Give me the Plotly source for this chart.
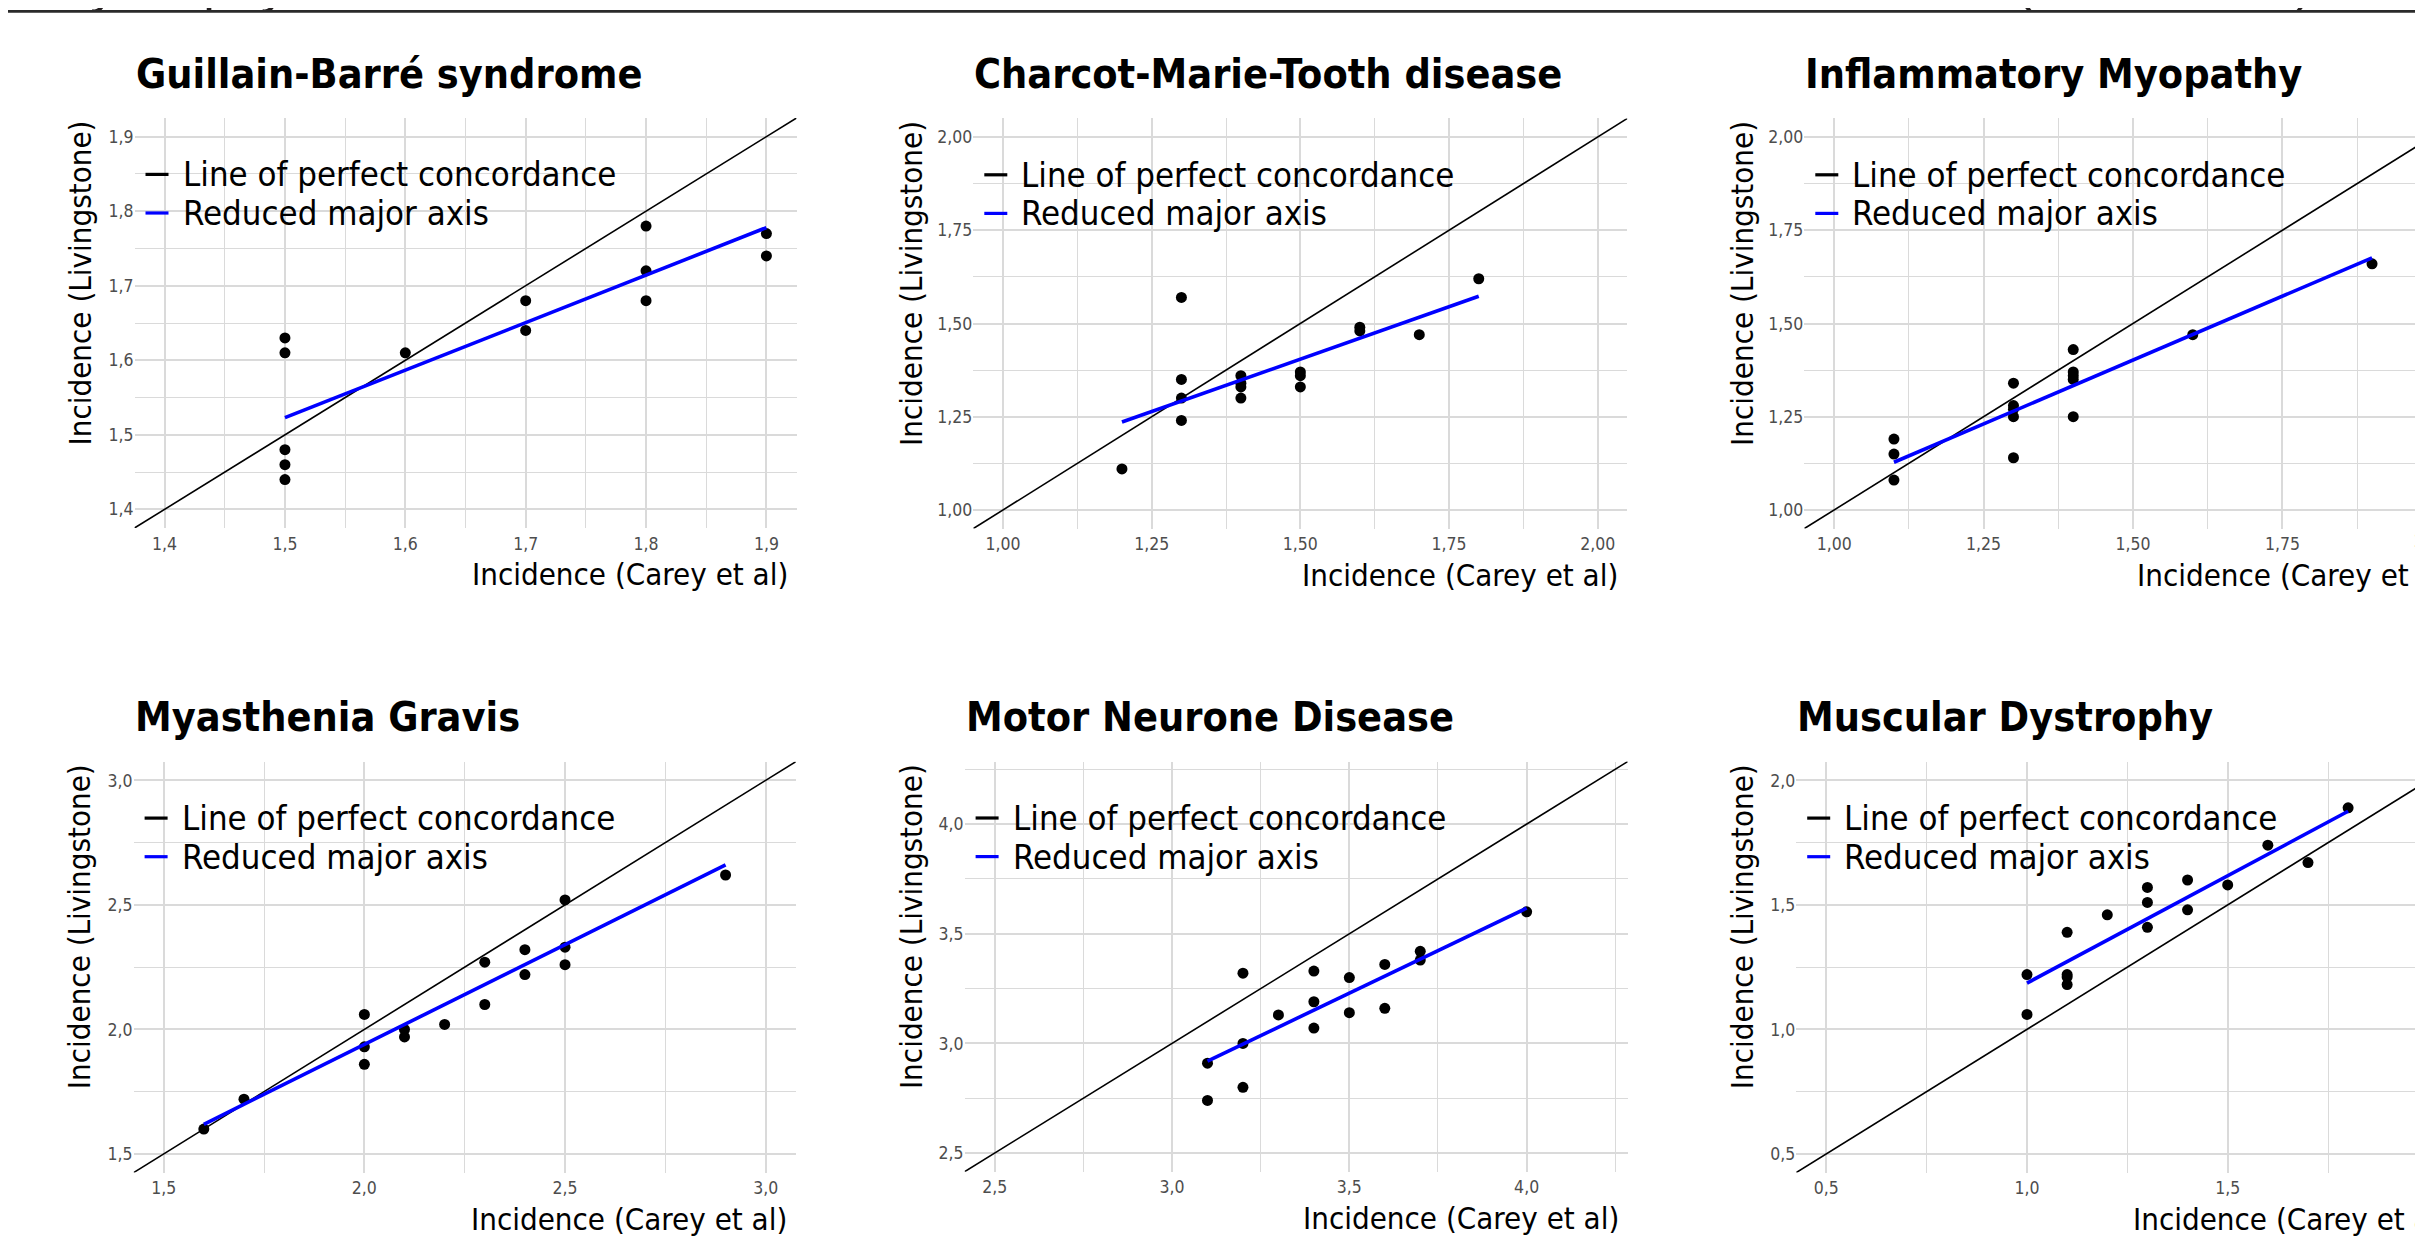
import plotly.graph_objects as go

# The page body adds an 8px margin, so the figure is drawn 8px right/down of
# the window corner; all positions below are measured in window pixels.
SW, SH = 2423, 1241
OFF = 8
FW, FH = SW - OFF, SH - OFF

# ---------------- data ----------------
titles = ["Guillain-Barré syndrome", "Charcot-Marie-Tooth disease", "Inflammatory Myopathy",
          "Myasthenia Gravis", "Motor Neurone Disease", "Muscular Dystrophy"]

gbs_carey = [1.5, 1.5, 1.5, 1.5, 1.5, 1.6, 1.7, 1.7, 1.8, 1.8, 1.8, 1.9, 1.9]
gbs_liv = [1.63, 1.61, 1.48, 1.46, 1.44, 1.61, 1.68, 1.64, 1.78, 1.72, 1.68, 1.77, 1.74]
gbs_rma_x = [1.5, 1.9]
gbs_rma_y = [1.523, 1.778]

cmt_carey = [1.2, 1.3, 1.3, 1.3, 1.3, 1.4, 1.4, 1.4, 1.4, 1.5, 1.5, 1.5, 1.6, 1.6, 1.7, 1.8]
cmt_liv = [1.11, 1.57, 1.35, 1.30, 1.24, 1.36, 1.34, 1.33, 1.30, 1.37, 1.36, 1.33, 1.49, 1.48, 1.47, 1.62]
cmt_rma_x = [1.2, 1.8]
cmt_rma_y = [1.236, 1.573]

im_carey = [1.1, 1.1, 1.1, 1.3, 1.3, 1.3, 1.3, 1.3, 1.4, 1.4, 1.4, 1.4, 1.4, 1.6, 1.9]
im_liv = [1.19, 1.15, 1.08, 1.34, 1.28, 1.27, 1.25, 1.14, 1.43, 1.37, 1.36, 1.35, 1.25, 1.47, 1.66]
im_rma_x = [1.1, 1.9]
im_rma_y = [1.128, 1.676]

mg_carey = [1.6, 1.7, 2.0, 2.0, 2.0, 2.1, 2.1, 2.2, 2.3, 2.3, 2.4, 2.4, 2.5, 2.5, 2.5, 2.9]
mg_liv = [1.60, 1.72, 2.06, 1.93, 1.86, 2.00, 1.97, 2.02, 2.27, 2.10, 2.32, 2.22, 2.52, 2.33, 2.26, 2.62]
mg_rma_x = [1.6, 2.9]
mg_rma_y = [1.619, 2.661]

mnd_carey = [3.1, 3.1, 3.2, 3.2, 3.2, 3.3, 3.4, 3.4, 3.4, 3.5, 3.5, 3.6, 3.6, 3.7, 3.7, 4.0]
mnd_liv = [2.91, 2.74, 3.32, 3.00, 2.80, 3.13, 3.33, 3.19, 3.07, 3.30, 3.14, 3.36, 3.16, 3.42, 3.38, 3.60]
mnd_rma_x = [3.1, 4.0]
mnd_rma_y = [2.919, 3.617]

md_carey = [1.0, 1.0, 1.1, 1.1, 1.1, 1.1, 1.2, 1.3, 1.3, 1.3, 1.4, 1.4, 1.5, 1.6, 1.7, 1.8]
md_liv = [1.22, 1.06, 1.39, 1.22, 1.21, 1.18, 1.46, 1.57, 1.51, 1.41, 1.60, 1.48, 1.58, 1.74, 1.67, 1.89]
md_rma_x = [1.0, 1.8]
md_rma_y = [1.186, 1.876]

tick_vals = [
    [1.4, 1.5, 1.6, 1.7, 1.8, 1.9],
    [1.0, 1.25, 1.5, 1.75, 2.0],
    [1.0, 1.25, 1.5, 1.75, 2.0],
    [1.5, 2.0, 2.5, 3.0],
    [2.5, 3.0, 3.5, 4.0],
    [0.5, 1.0, 1.5, 2.0],
]
tick_fmt = [".1f", ".2f", ".2f", ".1f", ".1f", ".1f"]
axis_limits = [[1.4, 1.9], [1.0, 2.0], [1.0, 2.0], [1.5, 3.0], [2.5, 4.2], [0.5, 2.0]]

legend_labels = ["Line of perfect concordance", "Reduced major axis"]
x_title = "Incidence (Carey et al)"
y_title = "Incidence (Livingstone)"

# clipped header fragments at the very top of the picture
header_texts = ["Muscular Dystrophy", "Ratio", "(0.95 – 1.06)"]

series = [
    (gbs_carey, gbs_liv, gbs_rma_x, gbs_rma_y),
    (cmt_carey, cmt_liv, cmt_rma_x, cmt_rma_y),
    (im_carey, im_liv, im_rma_x, im_rma_y),
    (mg_carey, mg_liv, mg_rma_x, mg_rma_y),
    (mnd_carey, mnd_liv, mnd_rma_x, mnd_rma_y),
    (md_carey, md_liv, md_rma_x, md_rma_y),
]

# ---------------- layout geometry (window pixels) ----------------
# left, right (may run past the window edge), top, bottom of each panel
boxes = [
    (134.5, 796.5, 118.0, 528.0),
    (973.3, 1627.4, 118.4, 528.6),
    (1804.3, 2461.7, 118.4, 528.6),
    (133.6, 795.8, 761.7, 1172.6),
    (964.6, 1627.7, 761.6, 1171.7),
    (1796.2, 2458.5, 761.7, 1172.6),
]
ytitle_x = [79.0, 911.0, 1742.0, 79.0, 911.0, 1742.0]

NARROW = "DejaVu Sans Condensed, Liberation Sans Narrow, sans-serif"
GRID = "#DADADA"
TICKC = "#4D4D4D"
S_TITLE, S_LEG, S_AX, S_TICK = 41, 34.5, 31, 17.5


def px(xs):
    return (xs - OFF) / FW


def py(ys):
    return 1 - (ys - OFF) / FH


fig = go.Figure()
shapes = []
annotations = []
layout_axes = {}

for i in range(6):
    n = i + 1
    xa = "x" if n == 1 else f"x{n}"
    ya = "y" if n == 1 else f"y{n}"
    L, R, T, B = boxes[i]
    lo, hi = axis_limits[i]
    pad = 0.05 * (hi - lo)
    r0, r1 = lo - pad, hi + pad
    if R > SW:
        vis_r1 = r0 + (SW - L) / (R - L) * (r1 - r0)
        dom_r = 1.0
    else:
        vis_r1 = r1
        dom_r = px(R)
    tv = tick_vals[i]
    minor_step = (tv[1] - tv[0]) / 2.0

    common = dict(
        showgrid=True, gridcolor=GRID, gridwidth=1.6,
        zeroline=False, showline=False, ticks="",
        tickmode="array", tickvals=tv, tickformat=tick_fmt[i],
        tickfont=dict(family=NARROW, size=S_TICK, color=TICKC),
        minor=dict(tickmode="linear", tick0=tv[0], dtick=minor_step,
                   showgrid=True, gridcolor=GRID, gridwidth=1.2, ticks=""),
        fixedrange=True,
    )
    layout_axes["xaxis" if n == 1 else f"xaxis{n}"] = dict(
        common, domain=[px(L), dom_r], range=[r0, vis_r1], anchor=ya,
        ticklabelstandoff=3)
    layout_axes["yaxis" if n == 1 else f"yaxis{n}"] = dict(
        common, domain=[py(B), py(T)], range=[r0, r1], anchor=xa)

    cx, cy, rx, ry = series[i]
    # line of perfect concordance (y = x) over the axis range
    fig.add_trace(go.Scatter(x=[r0, r1], y=[r0, r1], mode="lines",
                             line=dict(color="black", width=1.6),
                             xaxis=xa, yaxis=ya, showlegend=False, hoverinfo="skip"))
    fig.add_trace(go.Scatter(x=cx, y=cy, mode="markers",
                             marker=dict(color="black", size=11, line=dict(width=0)),
                             xaxis=xa, yaxis=ya, showlegend=False))
    fig.add_trace(go.Scatter(x=rx, y=ry, mode="lines",
                             line=dict(color="#0000FF", width=3.6),
                             xaxis=xa, yaxis=ya, showlegend=False, hoverinfo="skip"))

    # partial tick labels that fall just past the right window edge
    for v in tv:
        if v > vis_r1:
            xpx = L + (v - r0) / (r1 - r0) * (R - L)
            annotations.append(dict(
                xref="paper", yref="paper", x=px(xpx), y=py(B + 12),
                text=format(v, tick_fmt[i]).replace(".", ","),
                showarrow=False, xanchor="center", yanchor="middle",
                font=dict(family=NARROW, size=S_TICK, color=TICKC)))

    # panel title
    annotations.append(dict(
        xref="paper", yref="paper", x=px(L - 1), y=py(T - 44.5),
        text=f"<b>{titles[i]}</b>", showarrow=False,
        xanchor="left", yanchor="middle",
        font=dict(family=NARROW, size=S_TITLE, color="black")))

    # x axis title (right aligned)
    annotations.append(dict(
        xref="paper", yref="paper", x=px(R - 7), y=py(B + 46),
        text=x_title, showarrow=False, xanchor="right", yanchor="middle",
        font=dict(family=NARROW, size=S_AX, color="black")))

    # y axis title (rotated, aligned to the top of the panel)
    annotations.append(dict(
        xref="paper", yref="paper", x=px(ytitle_x[i]), y=py(T + 1),
        text=y_title, showarrow=False, textangle=-90,
        xanchor="center", yanchor="top",
        font=dict(family=NARROW, size=S_AX, color="black")))

    # legend (inside, top-left)
    for k, (lab, col) in enumerate(zip(legend_labels, ["black", "#0000FF"])):
        yy = T + 56.4 + k * 38.6
        shapes.append(dict(type="line", xref="paper", yref="paper",
                           x0=px(L + 11), x1=px(L + 34), y0=py(yy), y1=py(yy),
                           line=dict(color=col, width=3.2)))
        annotations.append(dict(
            xref="paper", yref="paper", x=px(L + 46), y=py(yy),
            text=lab, showarrow=False, xanchor="left", yanchor="middle",
            font=dict(family=NARROW, size=S_LEG, color="black")))

# clipped header fragments, drawn in a thin strip so only their bottoms show
fig.add_trace(go.Scatter(
    x=[287 - OFF, 1182 - OFF, 2164 - OFF], y=[7 - OFF - 0.35 * 52] * 3, mode="text",
    text=header_texts, textposition=["middle left", "middle center", "middle center"],
    textfont=dict(family="Liberation Sans, Arial, sans-serif", size=52, color="#231F20"),
    xaxis="x7", yaxis="y7", showlegend=False, hoverinfo="skip", cliponaxis=True))
layout_axes["xaxis7"] = dict(domain=[0, 1], range=[0, FW], visible=False, fixedrange=True, anchor="y7")
layout_axes["yaxis7"] = dict(domain=[1 - 2.5 / FH, 1], range=[2.5, 0], visible=False, fixedrange=True, anchor="x7")

shapes.append(dict(type="line", xref="paper", yref="paper", x0=0, x1=1,
                   y0=py(11.3), y1=py(11.3), line=dict(color="#2A2A2A", width=2.8)))

fig.update_layout(
    width=FW, height=FH, autosize=False,
    margin=dict(l=0, r=0, t=0, b=0, pad=0),
    paper_bgcolor="white", plot_bgcolor="white",
    separators=", ",
    showlegend=False,
    shapes=shapes, annotations=annotations,
    **layout_axes,
)

fig.write_html("out.html")
